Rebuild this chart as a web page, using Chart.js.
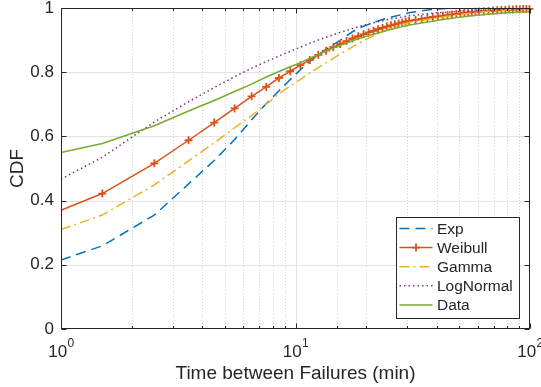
<!DOCTYPE html>
<html>
<head>
<meta charset="utf-8">
<script src="https://cdn.jsdelivr.net/npm/chart.js@4.4.1/dist/chart.umd.min.js"></script>
<style>
  html, body { margin: 0; padding: 0; background: #fff; }
  canvas { display: block; }
</style>
</head>
<body>
<canvas id="cdfChart" width="541" height="387"></canvas>
<script>
// time between failures (min), sample points of the CDF curves
const timeValues = [
  1, 1.5, 2.5, 3.5, 4.5, 5.5, 6.5, 7.5, 8.5, 9.5, 10.5, 11.5, 12.5, 13.5, 14.5, 15.5,
  16.5, 17.5, 18.5, 19.5, 20.5, 21.5, 22.5, 23.5, 24.5, 25.5, 26.5, 27.5, 28.5, 29.5, 30.5,
  32.5, 34.5, 36.5, 38.5, 40.5, 42.5, 44.5, 46.5, 48.5, 50.5, 52.5, 54.5, 56.5, 58.5, 60.5,
  63.5, 66.5, 69.5, 72.5, 75.5, 78.5, 81.5, 84.5, 87.5, 90.5, 93.5, 96.5, 99.5
];

const expCdf = [
  0.215, 0.259, 0.355, 0.452, 0.525, 0.59, 0.652, 0.702, 0.742, 0.777, 0.808, 0.834, 0.854, 0.871, 0.886, 0.899,
  0.914, 0.926, 0.936, 0.943, 0.949, 0.955, 0.96, 0.964, 0.968, 0.971, 0.974, 0.977, 0.98, 0.982, 0.985,
  0.988, 0.991, 0.994, 0.996, 0.997, 0.998, 0.999, 0.999, 1, 1, 1, 1, 1, 1, 1,
  1, 1, 1, 1, 1, 1, 1, 1, 1, 1, 1, 1, 1
];
const weibullCdf = [
  0.37, 0.422, 0.516, 0.588, 0.643, 0.687, 0.725, 0.754, 0.782, 0.803, 0.822, 0.838, 0.854, 0.867, 0.878, 0.888,
  0.897, 0.905, 0.912, 0.918, 0.924, 0.929, 0.934, 0.938, 0.942, 0.946, 0.949, 0.952, 0.955, 0.958, 0.96,
  0.963, 0.966, 0.969, 0.972, 0.974, 0.976, 0.978, 0.98, 0.982, 0.983, 0.985, 0.986, 0.987, 0.988, 0.989,
  0.99, 0.991, 0.992, 0.993, 0.994, 0.994, 0.995, 0.995, 0.996, 0.996, 0.997, 0.997, 0.997
];
const gammaCdf = [
  0.31, 0.355, 0.449, 0.524, 0.58, 0.627, 0.665, 0.7, 0.733, 0.757, 0.778, 0.797, 0.814, 0.829, 0.843, 0.857,
  0.868, 0.879, 0.889, 0.898, 0.906, 0.913, 0.92, 0.926, 0.931, 0.936, 0.941, 0.945, 0.949, 0.952, 0.955,
  0.958, 0.961, 0.964, 0.967, 0.97, 0.972, 0.974, 0.976, 0.978, 0.98, 0.982, 0.983, 0.985, 0.986, 0.987,
  0.989, 0.99, 0.991, 0.992, 0.993, 0.994, 0.995, 0.995, 0.996, 0.996, 0.997, 0.997, 0.998
];
const logNormalCdf = [
  0.467, 0.535, 0.645, 0.708, 0.752, 0.786, 0.812, 0.833, 0.85, 0.865, 0.878, 0.89, 0.9, 0.909, 0.917, 0.924,
  0.93, 0.936, 0.941, 0.946, 0.95, 0.954, 0.957, 0.96, 0.963, 0.966, 0.968, 0.97, 0.972, 0.974, 0.976,
  0.978, 0.98, 0.982, 0.984, 0.985, 0.986, 0.987, 0.988, 0.989, 0.99, 0.991, 0.991, 0.992, 0.992, 0.993,
  0.994, 0.994, 0.995, 0.995, 0.996, 0.996, 0.997, 0.997, 0.997, 0.998, 0.998, 0.998, 0.998
];
const dataCdf = [
  0.55, 0.578, 0.633, 0.679, 0.712, 0.74, 0.763, 0.785, 0.802, 0.817, 0.83, 0.843, 0.855, 0.866, 0.875, 0.883,
  0.891, 0.898, 0.904, 0.909, 0.914, 0.918, 0.922, 0.926, 0.93, 0.933, 0.936, 0.939, 0.942, 0.944, 0.947,
  0.95, 0.953, 0.956, 0.959, 0.962, 0.964, 0.966, 0.968, 0.97, 0.972, 0.973, 0.975, 0.976, 0.977, 0.978,
  0.979, 0.981, 0.982, 0.983, 0.984, 0.985, 0.986, 0.986, 0.987, 0.988, 0.988, 0.989, 0.989
];

const seriesLabels = ['Exp', 'Weibull', 'Gamma', 'LogNormal', 'Data'];
const xTickValues = [1, 10, 100];
const xTickExponents = ['0', '1', '2'];

const fontFamily = '"Liberation Sans", Arial, Helvetica, sans-serif';
const axisColor = '#262626';

function points(ys) {
  return timeValues.map((t, i) => ({ x: t, y: ys[i] }));
}

function isDecade(v) {
  const l = Math.log10(v);
  return Math.abs(l - Math.round(l)) < 1e-9;
}

// grid, box, inward ticks and the 10^n labels, MATLAB style
const matlabAxes = {
  id: 'matlabAxes',
  beforeDatasetsDraw(chart) {
    const { ctx, chartArea: a, scales: { x, y } } = chart;
    ctx.save();
    ctx.lineWidth = 1;
    x.ticks.forEach(t => {
      const px = Math.round(x.getPixelForValue(t.value)) + 0.5;
      if (px <= a.left + 1 || px >= a.right - 1) return;
      const major = isDecade(t.value);
      ctx.strokeStyle = major ? '#e3e3e3' : '#d2d2d2';
      ctx.setLineDash(major ? [] : [1, 2]);
      ctx.beginPath();
      ctx.moveTo(px, a.top);
      ctx.lineTo(px, a.bottom);
      ctx.stroke();
    });
    ctx.setLineDash([]);
    ctx.strokeStyle = '#e3e3e3';
    y.ticks.forEach(t => {
      const py = Math.round(y.getPixelForValue(t.value)) + 0.5;
      if (py <= a.top + 1 || py >= a.bottom - 1) return;
      ctx.beginPath();
      ctx.moveTo(a.left, py);
      ctx.lineTo(a.right, py);
      ctx.stroke();
    });
    ctx.restore();
  },
  afterDatasetsDraw(chart) {
    const { ctx, chartArea: a, scales: { x, y } } = chart;
    const L = Math.round(a.left) + 0.5, R = Math.round(a.right) - 0.5;
    const T = Math.round(a.top) + 0.5, B = Math.round(a.bottom) - 0.5;
    ctx.save();
    ctx.strokeStyle = axisColor;
    ctx.lineWidth = 1;
    ctx.strokeRect(L, T, R - L, B - T);
    ctx.beginPath();
    y.ticks.forEach(t => {
      const py = Math.round(y.getPixelForValue(t.value)) + 0.5;
      ctx.moveTo(L, py); ctx.lineTo(L + 5, py);
      ctx.moveTo(R, py); ctx.lineTo(R - 5, py);
    });
    x.ticks.forEach(t => {
      const px = Math.round(x.getPixelForValue(t.value)) + 0.5;
      const len = isDecade(t.value) ? 5 : 2.5;
      ctx.moveTo(px, B); ctx.lineTo(px, B - len);
      ctx.moveTo(px, T); ctx.lineTo(px, T + len);
    });
    ctx.stroke();

    // x tick labels 10^n
    ctx.fillStyle = axisColor;
    ctx.textBaseline = 'alphabetic';
    ctx.textAlign = 'left';
    xTickValues.forEach((v, i) => {
      const px = x.getPixelForValue(v);
      ctx.font = '17px ' + fontFamily;
      const wBase = ctx.measureText('10').width;
      ctx.font = '12px ' + fontFamily;
      const wExp = ctx.measureText(xTickExponents[i]).width;
      const start = px - (wBase + wExp) / 2;
      ctx.font = '17px ' + fontFamily;
      ctx.fillText('10', start, a.bottom + 28);
      ctx.font = '12px ' + fontFamily;
      ctx.fillText(xTickExponents[i], start + wBase + 0.5, a.bottom + 18);
    });
    ctx.restore();
  },
  afterDraw(chart) {
    // legend box inside the axes, lower right
    const { ctx, chartArea: a } = chart;
    const sets = chart.data.datasets;
    ctx.save();
    ctx.font = '15.5px ' + fontFamily;
    const textW = Math.max(...sets.map(d => ctx.measureText(d.label).width));
    const rowH = 19.1;
    const boxW = Math.round(3.5 + 33 + 4.5 + textW + 6.5);
    const boxH = Math.round(rowH * sets.length + 5);
    const right = Math.round(a.right) - 11;
    const bottom = Math.round(a.bottom) - 11;
    const left = right - boxW, top = bottom - boxH;
    ctx.fillStyle = '#fff';
    ctx.fillRect(left, top, boxW, boxH);
    ctx.strokeStyle = axisColor;
    ctx.lineWidth = 1;
    ctx.strokeRect(left + 0.5, top + 0.5, boxW, boxH);
    sets.forEach((d, i) => {
      const cy = top + 11.5 + i * rowH;
      const x0 = left + 3.5, x1 = x0 + 33;
      ctx.strokeStyle = d.borderColor;
      ctx.lineWidth = d.borderWidth;
      ctx.setLineDash(d.borderDash || []);
      ctx.beginPath();
      ctx.moveTo(x0, cy);
      ctx.lineTo(x1, cy);
      ctx.stroke();
      ctx.setLineDash([]);
      if (d.pointStyle === 'cross') {
        const mx = (x0 + x1) / 2;
        ctx.lineWidth = d.pointBorderWidth;
        ctx.beginPath();
        ctx.moveTo(mx - 4, cy); ctx.lineTo(mx + 4, cy);
        ctx.moveTo(mx, cy - 4); ctx.lineTo(mx, cy + 4);
        ctx.stroke();
      }
      ctx.fillStyle = axisColor;
      ctx.textBaseline = 'middle';
      ctx.fillText(d.label, x1 + 4.5, cy + 1);
    });
    ctx.restore();
  }
};

const lineBase = {
  borderWidth: 1.5,
  pointRadius: 0,
  tension: 0,
  fill: false
};

new Chart('cdfChart', {
  type: 'line',
  data: {
    datasets: [
      Object.assign({}, lineBase, {
        label: seriesLabels[0], data: points(expCdf),
        borderColor: '#0072BD', borderDash: [10, 6], order: 5
      }),
      Object.assign({}, lineBase, {
        label: seriesLabels[1], data: points(weibullCdf),
        borderColor: '#D95319', pointStyle: 'cross',
        pointRadius: timeValues.map((t, i) => (i === 0 ? 0 : 4)),
        pointBorderColor: '#D95319', pointBorderWidth: 1.8,
        clip: false, order: 4
      }),
      Object.assign({}, lineBase, {
        label: seriesLabels[2], data: points(gammaCdf),
        borderColor: '#EDB120', borderDash: [10, 4, 2, 4], order: 3
      }),
      Object.assign({}, lineBase, {
        label: seriesLabels[3], data: points(logNormalCdf),
        borderColor: '#7E2F8E', borderDash: [1.5, 3], order: 2
      }),
      Object.assign({}, lineBase, {
        label: seriesLabels[4], data: points(dataCdf),
        borderColor: '#77AC30', order: 1
      })
    ]
  },
  options: {
    responsive: false,
    animation: false,
    devicePixelRatio: 1,
    layout: { padding: { top: 8, right: 11, left: 0, bottom: 0 } },
    plugins: {
      legend: { display: false },
      tooltip: { enabled: false }
    },
    scales: {
      x: {
        type: 'logarithmic',
        min: 1,
        max: 100,
        grid: { display: false, drawTicks: false },
        border: { display: false },
        ticks: { display: false, autoSkip: false },
        title: {
          display: true,
          text: 'Time between Failures (min)',
          color: axisColor,
          font: { family: fontFamily, size: 19 },
          padding: { top: 0, bottom: 2 }
        },
        afterFit(scale) {
          scale.height = 58;
          scale.paddingLeft = 0;
          scale.paddingRight = 0;
        }
      },
      y: {
        min: 0,
        max: 1,
        grid: { display: false, drawTicks: false },
        border: { display: false },
        ticks: {
          stepSize: 0.2,
          padding: 7,
          color: axisColor,
          font: { family: fontFamily, size: 17 },
          callback: v => String(Number(v.toFixed(1)))
        },
        title: {
          display: true,
          text: 'CDF',
          color: axisColor,
          font: { family: fontFamily, size: 19 },
          padding: { top: 6, bottom: 0 }
        },
        afterFit(scale) {
          scale.width = 61;
          scale.paddingTop = 0;
          scale.paddingBottom = 0;
        }
      }
    }
  },
  plugins: [matlabAxes]
});
</script>
</body>
</html>
